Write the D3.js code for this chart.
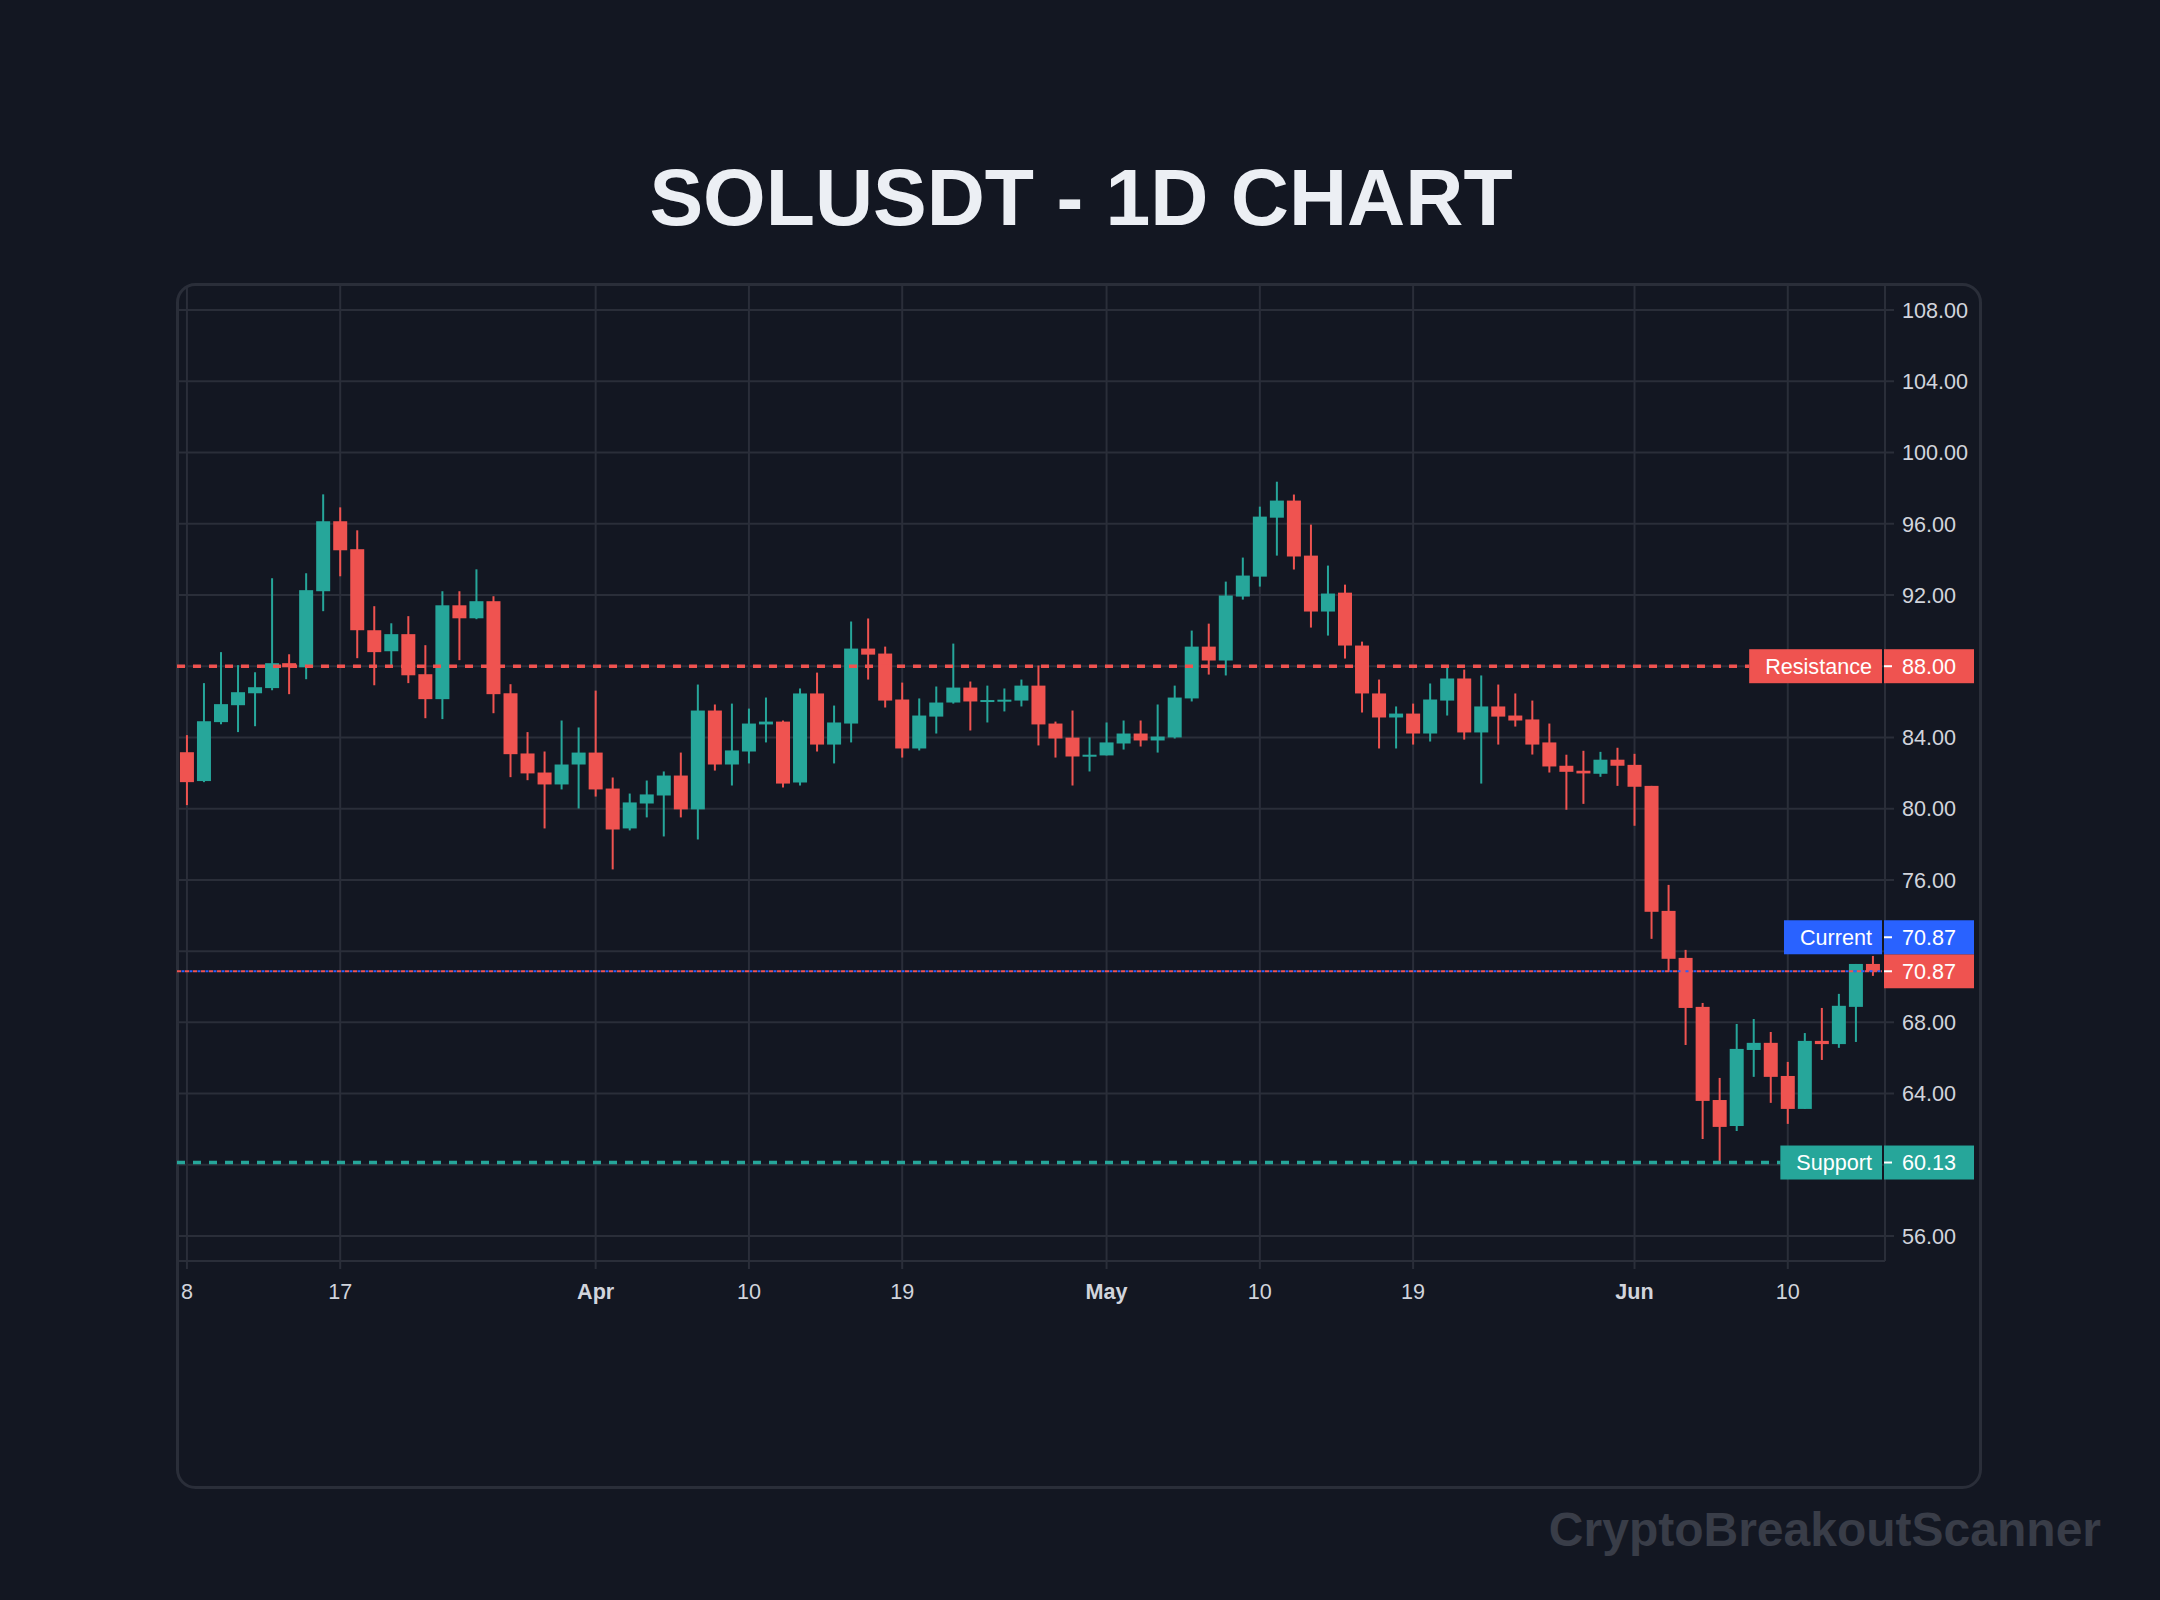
<!DOCTYPE html>
<html>
<head>
<meta charset="utf-8">
<script src="https://cdn.jsdelivr.net/npm/d3@7"></script>
<style>
html,body{margin:0;padding:0;background:#131722;}
svg{display:block;}
</style>
</head>
<body>
<script>
// ---------- DATA ----------
const symbolTitle = "SOLUSDT - 1D CHART";
const watermark = "CryptoBreakoutScanner";
const startDate = "2025-03-08";
const openVals = [83.17,81.55,84.86,85.81,86.48,86.77,88.17,87.94,92.21,96.14,
  94.57,90.02,88.84,89.80,87.55,86.15,91.42,90.69,91.65,86.48,
  83.10,82.03,81.36,82.48,83.15,81.13,78.89,80.29,80.74,81.86,
  79.96,85.51,82.48,83.21,84.73,84.89,81.47,86.47,83.60,84.78,
  88.99,88.71,86.13,83.38,85.17,85.96,86.80,86.02,86.08,86.07,
  86.91,84.78,83.99,82.93,82.99,83.66,84.22,83.83,84.00,86.19,
  89.10,88.32,91.91,93.03,96.34,97.30,94.21,91.07,92.13,89.16,
  86.47,85.12,85.34,84.22,86.07,87.31,84.28,85.74,85.23,85.01,
  83.72,82.41,82.13,81.96,82.75,82.46,81.28,74.26,71.62,68.87,
  63.64,62.18,66.45,66.85,64.99,63.14,66.96,66.78,68.87,71.28];
const highVals = [84.13,87.05,88.79,88.06,87.66,92.94,88.67,93.22,97.65,96.92,
  95.63,91.37,90.41,90.81,89.18,92.21,92.21,93.44,91.93,86.99,
  84.30,83.21,84.95,84.56,86.63,81.75,80.85,81.58,82.09,83.15,
  86.97,85.85,85.90,85.62,86.24,84.95,86.75,87.64,85.79,90.51,
  90.68,89.10,87.08,86.19,86.86,89.27,87.14,86.91,86.75,87.25,
  88.04,84.89,85.51,84.00,84.84,84.95,84.95,85.85,86.91,90.00,
  90.39,92.75,94.10,96.96,98.36,97.64,95.95,93.65,92.58,89.38,
  87.25,85.74,85.90,87.03,87.98,87.81,87.48,86.97,86.47,86.07,
  84.78,83.03,83.25,83.19,83.42,83.08,81.28,75.72,72.07,69.09,
  64.88,67.91,68.19,67.46,65.78,67.40,68.81,69.60,71.28,71.73];
const lowVals = [80.20,81.49,84.74,84.30,84.63,86.65,86.43,87.27,91.09,93.05,
  88.45,86.93,88.06,87.05,85.08,85.03,88.34,90.64,85.36,81.77,
  81.60,78.89,81.08,80.01,80.68,76.59,78.78,79.51,78.44,79.51,
  78.27,82.14,81.30,82.54,83.72,81.19,81.30,83.21,82.54,83.72,
  87.25,85.68,82.87,83.27,84.22,85.90,84.39,84.84,85.46,85.74,
  83.55,82.87,81.30,82.09,82.99,83.32,83.49,83.15,83.94,86.02,
  87.53,87.48,91.74,92.47,94.21,93.43,90.17,89.72,88.43,85.40,
  83.38,83.38,83.60,83.77,85.23,83.88,81.41,83.60,84.61,83.04,
  82.03,79.94,80.27,81.79,81.28,79.04,72.69,70.84,66.73,61.45,
  60.13,61.90,64.94,63.48,62.30,63.14,65.89,66.57,66.90,70.61];
const closeVals = [81.49,84.91,85.87,86.54,86.82,88.17,87.94,92.27,96.14,94.51,
  90.02,88.79,89.80,87.49,86.15,91.42,90.69,91.65,86.43,83.06,
  81.98,81.36,82.48,83.15,81.08,78.83,80.35,80.80,81.86,79.96,
  85.51,82.48,83.27,84.78,84.89,81.41,86.47,83.60,84.84,88.99,
  88.65,86.07,83.38,85.23,85.96,86.80,86.02,86.10,86.12,86.91,
  84.73,83.94,82.93,83.03,83.72,84.22,83.83,84.05,86.24,89.10,
  88.32,91.97,93.09,96.40,97.30,94.16,91.07,92.08,89.16,86.47,
  85.12,85.34,84.22,86.13,87.31,84.28,85.74,85.17,84.95,83.60,
  82.37,82.07,81.98,82.75,82.41,81.23,74.21,71.57,68.81,63.59,
  62.13,66.51,66.85,64.94,63.14,66.96,66.78,68.93,71.28,70.87];
const resistanceLevel = 88.00;
const supportLevel = 60.13;
const currentPrice = 70.87;
const yTickValues = [56,60,64,68,72,76,80,84,88,92,96,100,104,108];
const xTickDates = ["2025-03-08","2025-03-17","2025-04-01","2025-04-10","2025-04-19",
  "2025-05-01","2025-05-10","2025-05-19","2025-06-01","2025-06-10"];
const xTickLabels = ["8","17","Apr","10","19","May","10","19","Jun","10"];
const xTickIsMonth = [false,false,true,false,false,true,false,false,true,false];

// ---------- LAYOUT ----------
const W = 2160, H = 1600;
const FONT = "'Liberation Sans', Arial, Helvetica, sans-serif";
const BG = "#131722", GRID = "#2a2e39", TXT = "#d1d4dc";
const UP = "#26a69a", DOWN = "#ef5350", BLUE = "#2962ff";
const plot = {left: 177, right: 1885, top: 286, bottom: 1261};
const yDomain = [54.60, 109.35];
const boxH = 34;

const parse = d3.utcParse("%Y-%m-%d");
const first = parse(startDate);
const dates = closeVals.map((_, i) => d3.utcDay.offset(first, i));
const candles = dates.map((d, i) => ({date: d, o: openVals[i], h: highVals[i], l: lowVals[i], c: closeVals[i]}));

const x = d3.scaleUtc()
  .domain([d3.utcHour.offset(first, -14), d3.utcHour.offset(dates[dates.length - 1], 17)])
  .range([plot.left, plot.right]);
const y = d3.scaleLinear().domain(yDomain).range([plot.bottom, plot.top]);

const lastC = candles[candles.length - 1];
const lastColor = lastC.c >= lastC.o ? UP : DOWN;
const yr = y(resistanceLevel), ys = y(supportLevel), yc = y(currentPrice);
// vertical extents of the right-hand price boxes (axis labels underneath are hidden)
const boxCenters = [yr, ys, yc, yc - boxH];

const svg = d3.select("body").append("svg").attr("width", W).attr("height", H)
  .style("font-family", FONT);
svg.append("rect").attr("width", W).attr("height", H).attr("fill", BG);

// title
svg.append("text").attr("x", 1081).attr("y", 225).attr("text-anchor", "middle")
  .attr("font-size", 80.5).attr("font-weight", "bold").attr("fill", "#eceff4")
  .text(symbolTitle);

// container
svg.append("rect").attr("x", 177.5).attr("y", 284.5).attr("width", 1803).attr("height", 1203)
  .attr("rx", 18).attr("fill", "none").attr("stroke", GRID).attr("stroke-width", 3);

// grid
const grid = svg.append("g");
grid.selectAll("line.h").data(yTickValues).join("line")
  .attr("x1", plot.left).attr("x2", plot.right + 9)
  .attr("y1", d => y(d)).attr("y2", d => y(d))
  .attr("stroke", GRID).attr("stroke-width", 2);
const xTicks = xTickDates.map(parse);
grid.selectAll("line.v").data(xTicks).join("line")
  .attr("x1", d => x(d)).attr("x2", d => x(d))
  .attr("y1", plot.top).attr("y2", plot.bottom + 8)
  .attr("stroke", GRID).attr("stroke-width", 2);
svg.append("line").attr("x1", plot.left).attr("x2", plot.right).attr("y1", plot.bottom).attr("y2", plot.bottom)
  .attr("stroke", GRID).attr("stroke-width", 2);
svg.append("line").attr("x1", plot.right).attr("x2", plot.right).attr("y1", plot.top).attr("y2", plot.bottom)
  .attr("stroke", GRID).attr("stroke-width", 2);

// x labels
svg.append("g").selectAll("text").data(xTicks).join("text")
  .attr("x", d => x(d)).attr("y", 1299).attr("text-anchor", "middle")
  .attr("font-size", 21.6).attr("fill", TXT)
  .attr("font-weight", (d, i) => xTickIsMonth[i] ? "bold" : "normal")
  .text((d, i) => xTickLabels[i]);

// y labels (skip the ones covered by price boxes)
const visibleY = yTickValues.filter(v => boxCenters.every(c => Math.abs(y(v) - c) > boxH / 2 + 4));
svg.append("g").selectAll("text").data(visibleY).join("text")
  .attr("x", 1902).attr("y", d => y(d)).attr("dy", "0.36em")
  .attr("font-size", 21.6).attr("fill", TXT)
  .text(d => d3.format(".2f")(d));

// candles
svg.append("clipPath").attr("id", "clip").append("rect")
  .attr("x", plot.left).attr("y", plot.top).attr("width", plot.right - plot.left).attr("height", plot.bottom - plot.top);
const cg = svg.append("g").attr("clip-path", "url(#clip)");
const bodyW = 14;
const cs = cg.selectAll("g.c").data(candles).join("g");
cs.append("rect")
  .attr("x", d => x(d.date) - 1).attr("width", 2)
  .attr("y", d => y(d.h)).attr("height", d => Math.max(1, y(d.l) - y(d.h)))
  .attr("fill", d => d.c >= d.o ? UP : DOWN);
cs.append("rect")
  .attr("x", d => x(d.date) - bodyW / 2).attr("width", bodyW)
  .attr("y", d => y(Math.max(d.o, d.c)))
  .attr("height", d => Math.max(2, Math.abs(y(d.o) - y(d.c))))
  .attr("fill", d => d.c >= d.o ? UP : DOWN);

// level lines + labels
function measure(txt) {
  const t = svg.append("text").attr("font-size", 21.6).text(txt);
  const w = t.node().getComputedTextLength(); t.remove(); return w;
}
function sideLabel(txt, color, cy) {
  const w = measure(txt) + 26;
  svg.append("rect").attr("x", 1882 - w).attr("y", cy - boxH / 2).attr("width", w).attr("height", boxH).attr("fill", color);
  svg.append("text").attr("x", 1872).attr("y", cy).attr("dy", "0.36em").attr("text-anchor", "end")
    .attr("font-size", 21.6).attr("fill", "#ffffff").text(txt);
  return 1882 - w;
}
function priceBox(val, color, cy) {
  svg.append("rect").attr("x", 1884).attr("y", cy - boxH / 2).attr("width", 90).attr("height", boxH).attr("fill", color);
  svg.append("line").attr("x1", 1884).attr("x2", 1892).attr("y1", cy).attr("y2", cy).attr("stroke", "#ffffff").attr("stroke-width", 2);
  svg.append("text").attr("x", 1902).attr("y", cy).attr("dy", "0.36em")
    .attr("font-size", 21.6).attr("fill", "#ffffff").text(d3.format(".2f")(val));
}

// resistance
const rLeft = sideLabel("Resistance", DOWN, yr);
svg.append("line").attr("x1", plot.left).attr("x2", rLeft).attr("y1", yr).attr("y2", yr)
  .attr("stroke", DOWN).attr("stroke-width", 3.6).attr("stroke-dasharray", "8,8");
priceBox(resistanceLevel, DOWN, yr);

// support
const sLeft = sideLabel("Support", UP, ys);
svg.append("line").attr("x1", plot.left).attr("x2", sLeft).attr("y1", ys).attr("y2", ys)
  .attr("stroke", UP).attr("stroke-width", 3.6).attr("stroke-dasharray", "8,8");
priceBox(supportLevel, UP, ys);

// current price lines
svg.append("line").attr("x1", plot.left).attr("x2", 1882).attr("y1", yc).attr("y2", yc)
  .attr("stroke", BLUE).attr("stroke-width", 1.8).attr("stroke-dasharray", "3,5").attr("stroke-dashoffset", -4.5);
svg.append("line").attr("x1", plot.left).attr("x2", 1882).attr("y1", yc).attr("y2", yc)
  .attr("stroke", lastColor).attr("stroke-width", 1.8).attr("stroke-dasharray", "4,4");
priceBox(lastC.c, lastColor, yc);
sideLabel("Current", BLUE, yc - boxH);
priceBox(currentPrice, BLUE, yc - boxH);

// watermark
svg.append("text").attr("x", 2101).attr("y", 1546).attr("text-anchor", "end")
  .attr("font-size", 48).attr("font-weight", "bold").attr("fill", "#393d48")
  .text(watermark);
</script>
</body>
</html>
